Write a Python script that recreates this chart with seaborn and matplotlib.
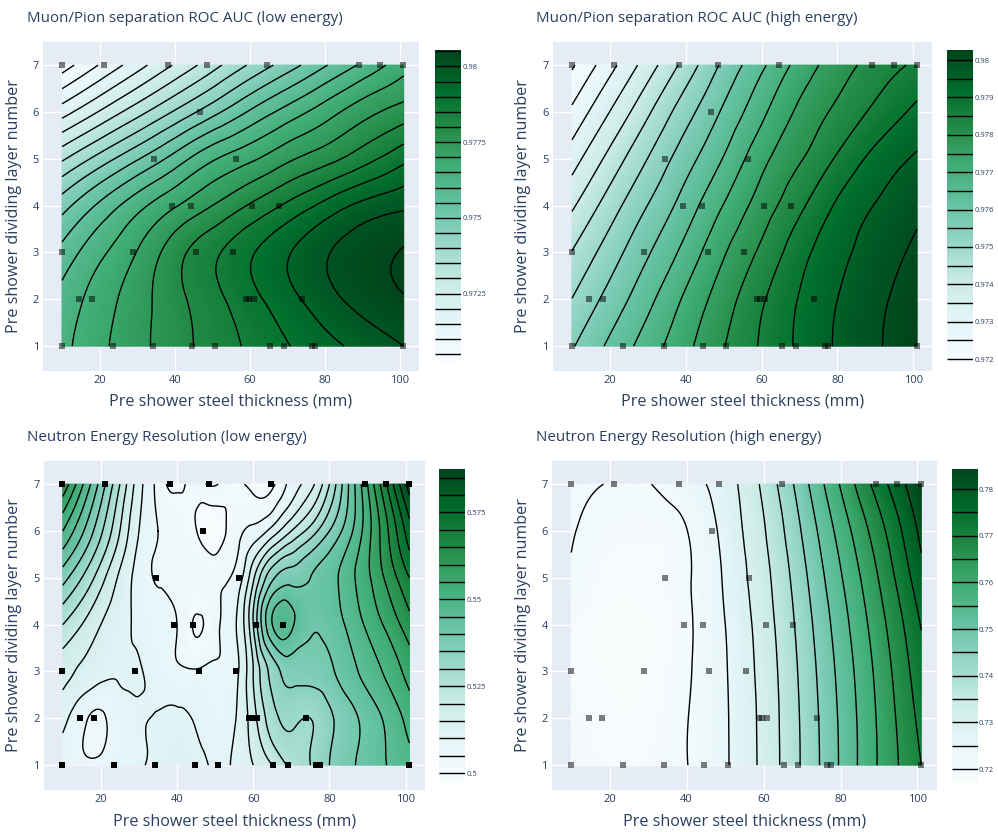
import numpy as np
import matplotlib
matplotlib.use("Agg")
import matplotlib.pyplot as plt
import matplotlib.tri as mtri
from matplotlib.colors import Normalize
from matplotlib.cm import ScalarMappable
import seaborn as sns

# ---------------- data ----------------
# design points (pre shower steel thickness, dividing layer number)
point_x = [9.9, 21.1, 38.1, 48.5, 64.7, 89.2, 94.8, 100.9,
           46.7,
           34.4, 56.3,
           39.2, 44.3, 60.7, 67.7,
           9.9, 28.9, 45.8, 55.4,
           14.5, 18.1, 58.9, 59.7, 61.0, 73.9,
           9.9, 23.5, 34.2, 44.6, 50.7, 65.3, 69.0, 76.6, 77.5, 100.9]
point_y = [7, 7, 7, 7, 7, 7, 7, 7,
           6,
           5, 5,
           4, 4, 4, 4,
           3, 3, 3, 3,
           2, 2, 2, 2, 2, 2,
           1, 1, 1, 1, 1, 1, 1, 1, 1, 1]

grid_y = [1, 2, 3, 4, 5, 6, 7]
grid_x_coarse = [10, 20, 30, 40, 50, 60, 70, 80, 90, 101]
grid_x_fine = [10, 15, 20, 25, 30, 35, 40, 45, 50, 55, 60, 65, 70, 75, 80, 85, 90, 95, 101]

# Muon/Pion separation ROC AUC (low energy); rows = layer 1..7
auc_low = [
    [0.97635, 0.97688, 0.97734, 0.97779, 0.97820, 0.97859, 0.97897, 0.97932, 0.97966, 0.98000],
    [0.97615, 0.97675, 0.97727, 0.97784, 0.97833, 0.97883, 0.97932, 0.97980, 0.98018, 0.98046],
    [0.97566, 0.97638, 0.97702, 0.97778, 0.97838, 0.97893, 0.97945, 0.97994, 0.98028, 0.98054],
    [0.97479, 0.97560, 0.97632, 0.97695, 0.97750, 0.97805, 0.97860, 0.97915, 0.97963, 0.97990],
    [0.97342, 0.97420, 0.97495, 0.97570, 0.97643, 0.97690, 0.97740, 0.97781, 0.97829, 0.97887],
    [0.97178, 0.97254, 0.97330, 0.97406, 0.97482, 0.97556, 0.97620, 0.97676, 0.97730, 0.97772],
    [0.97025, 0.97103, 0.97179, 0.97255, 0.97330, 0.97406, 0.97475, 0.97545, 0.97610, 0.97680],
]
# Muon/Pion separation ROC AUC (high energy)
auc_high = [
    [0.97545, 0.97610, 0.97674, 0.97737, 0.97798, 0.97856, 0.97909, 0.97956, 0.97994, 0.98027],
    [0.97501, 0.97568, 0.97636, 0.97709, 0.97777, 0.97843, 0.97903, 0.97950, 0.97989, 0.98020],
    [0.97452, 0.97525, 0.97595, 0.97667, 0.97745, 0.97810, 0.97881, 0.97934, 0.97975, 0.98008],
    [0.97392, 0.97475, 0.97551, 0.97623, 0.97702, 0.97773, 0.97839, 0.97907, 0.97952, 0.97989],
    [0.97327, 0.97416, 0.97501, 0.97579, 0.97653, 0.97735, 0.97795, 0.97857, 0.97915, 0.97957],
    [0.97260, 0.97351, 0.97442, 0.97530, 0.97608, 0.97688, 0.97760, 0.97811, 0.97862, 0.97912],
    [0.97193, 0.97283, 0.97375, 0.97469, 0.97561, 0.97640, 0.97718, 0.97776, 0.97820, 0.97860],
]
# Neutron energy resolution (low energy)
res_low = [
    [0.508, 0.506, 0.5065, 0.509, 0.5095, 0.5115, 0.5125, 0.5115, 0.5095, 0.5105, 0.515, 0.520, 0.526, 0.530, 0.535, 0.539, 0.542, 0.545, 0.548],
    [0.5115, 0.5065, 0.5042, 0.508, 0.5095, 0.5105, 0.511, 0.5095, 0.508, 0.5095, 0.518, 0.528, 0.531, 0.530, 0.534, 0.538, 0.542, 0.546, 0.552],
    [0.517, 0.514, 0.5115, 0.5105, 0.5105, 0.508, 0.506, 0.5055, 0.506, 0.508, 0.520, 0.532, 0.537, 0.537, 0.539, 0.543, 0.547, 0.551, 0.557],
    [0.525, 0.520, 0.515, 0.5115, 0.509, 0.507, 0.505, 0.4995, 0.5035, 0.509, 0.525, 0.545, 0.546, 0.541, 0.542, 0.546, 0.551, 0.556, 0.563],
    [0.537, 0.530, 0.522, 0.514, 0.508, 0.5045, 0.503, 0.503, 0.5035, 0.506, 0.519, 0.534, 0.538, 0.540, 0.543, 0.548, 0.554, 0.561, 0.570],
    [0.550, 0.541, 0.531, 0.520, 0.510, 0.505, 0.503, 0.5002, 0.4975, 0.5025, 0.5065, 0.512, 0.520, 0.527, 0.535, 0.543, 0.553, 0.564, 0.578],
    [0.564, 0.551, 0.538, 0.525, 0.512, 0.5035, 0.4978, 0.5035, 0.5055, 0.5008, 0.4986, 0.4990, 0.507, 0.513, 0.525, 0.540, 0.555, 0.570, 0.5875],
]
# Neutron energy resolution (high energy)
res_high = [
    [0.7185, 0.7180, 0.7182, 0.7199, 0.72441, 0.73136, 0.7405, 0.75053, 0.76048, 0.7700],
    [0.7183, 0.7177, 0.7178, 0.71985, 0.72445, 0.73148, 0.74066, 0.75076, 0.76075, 0.7715],
    [0.7180, 0.7174, 0.7175, 0.7195, 0.7246, 0.73185, 0.74117, 0.75146, 0.76157, 0.7732],
    [0.7181, 0.7173, 0.7174, 0.7193, 0.72497, 0.73247, 0.74206, 0.75268, 0.76304, 0.7753],
    [0.7196, 0.7178, 0.7177, 0.7195, 0.72565, 0.73335, 0.74341, 0.7545, 0.76525, 0.7784],
    [0.7203, 0.7185, 0.7183, 0.7199, 0.72654, 0.73452, 0.74532, 0.75693, 0.76809, 0.7813],
    [0.7213, 0.71985, 0.71985, 0.72293, 0.72764, 0.73615, 0.74779, 0.7604, 0.7725, 0.7843],
]

titles = ["Muon/Pion separation ROC AUC (low energy)",
          "Muon/Pion separation ROC AUC (high energy)",
          "Neutron Energy Resolution (low energy)",
          "Neutron Energy Resolution (high energy)"]
x_title = "Pre shower steel thickness (mm)"
y_title = "Pre shower dividing layer number"

contour_levels = [(0.9705, 0.9805, 0.0005), (0.972, 0.980, 0.0005),
                  (0.500, 0.585, 0.005), (0.720, 0.780, 0.005)]
colorbar_ticks = [[0.9725, 0.975, 0.9775, 0.98],
                  [0.972, 0.973, 0.974, 0.975, 0.976, 0.977, 0.978, 0.979, 0.98],
                  [0.5, 0.525, 0.55, 0.575],
                  [0.72, 0.73, 0.74, 0.75, 0.76, 0.77, 0.78]]

# ---------------- style ----------------
sns.set_theme(style="darkgrid", rc={"axes.facecolor": "#E5ECF6", "grid.color": "white",
                                    "grid.linewidth": 1.0, "figure.facecolor": "white"})
plt.rcParams['font.family'] = ['Open Sans', 'DejaVu Sans']
TEXT = "#2a3f5f"

W, H = 998, 832
fig = plt.figure(figsize=(W / 100, H / 100), dpi=100)


def rect(l, t, r, b):
    return [l / W, 1 - b / H, (r - l) / W, (b - t) / H]


ax_boxes = [(43.3, 41.7, 418.7, 371), (553, 41.7, 932.3, 371),
            (43.7, 460.7, 424.7, 790), (552, 460.7, 936.7, 790)]
cb_boxes = [(435, 50, 461, 361.7), (946.7, 50, 973.3, 361.7),
            (439, 469, 465, 781.7), (952, 469, 977.7, 781.7)]
title_pos = [(26.7, 21.7), (536, 21.7), (26.7, 440.7), (536, 440.7)]
xtitle_base = [406, 406, 826, 826]
ytitle_x = [14, 523, 14, 523]

fields = [(grid_x_coarse, auc_low), (grid_x_coarse, auc_high),
          (grid_x_fine, res_low), (grid_x_coarse, res_high)]
marker_alpha = [0.5, 0.5, 1.0, 0.5]

for i in range(4):
    gx, Zl = fields[i]
    gx = np.asarray(gx, float)
    gy = np.asarray(grid_y, float)
    Z = np.asarray(Zl, float)
    X, Y = np.meshgrid(gx, gy)
    sx = gx[1] - gx[0]
    tri = mtri.Triangulation((X / sx).ravel(), Y.ravel())
    tri_f, z_f = mtri.UniformTriRefiner(tri).refine_field(Z.ravel(), subdiv=4)
    tri_d = mtri.Triangulation(tri_f.x * sx, tri_f.y, tri_f.triangles)
    norm = Normalize(Z.min(), Z.max())

    ax = fig.add_axes(rect(*ax_boxes[i]))
    ax.set_axisbelow(True)
    ax.tripcolor(tri_d, z_f, shading='gouraud', cmap='BuGn', norm=norm, zorder=1)
    lo, hi, st = contour_levels[i]
    levels = np.round(np.arange(lo, hi + st / 2, st), 6)
    ax.tricontour(tri_d, z_f, levels=levels, colors='black', linewidths=1.0, zorder=2)
    sns.scatterplot(x=point_x, y=point_y, marker='s', s=22, color='black',
                    alpha=marker_alpha[i], linewidth=0, ax=ax, zorder=3, legend=False)
    ax.set_xlim(5, 105)
    ax.set_ylim(0.47, 7.5)
    ax.set_xticks([20, 40, 60, 80, 100])
    ax.set_yticks([1, 2, 3, 4, 5, 6, 7])
    ax.grid(True, color='white', linewidth=1.0)
    ax.tick_params(length=0, labelsize=8, labelcolor=TEXT, pad=3)
    ax.set_xlabel("")
    ax.set_ylabel("")
    for s in ax.spines.values():
        s.set_visible(False)

    cax = fig.add_axes(rect(*cb_boxes[i]))
    cb = fig.colorbar(ScalarMappable(norm=norm, cmap='BuGn'), cax=cax)
    cb.outline.set_visible(False)
    lv = [v for v in levels if norm.vmin <= v <= norm.vmax]
    cb.add_lines(lv, colors=['black'] * len(lv), linewidths=[1.0] * len(lv))
    cb.set_ticks(colorbar_ticks[i])
    cb.set_ticklabels([f"{t:g}" for t in colorbar_ticks[i]])
    cax.tick_params(length=0, labelsize=5.5, labelcolor=TEXT, pad=1)

    l, t, r, b = ax_boxes[i]
    tx, ty = title_pos[i]
    fig.text(tx / W, 1 - ty / H, titles[i], fontsize=10.9, color=TEXT,
             ha='left', va='baseline')
    fig.text(((l + r) / 2) / W, 1 - xtitle_base[i] / H, x_title, fontsize=11.6,
             color=TEXT, ha='center', va='baseline')
    fig.text(ytitle_x[i] / W, 1 - ((t + b) / 2) / H, y_title, fontsize=11.6,
             color=TEXT, ha='center', va='center', rotation=90)

fig.savefig("out.png", dpi=100)
